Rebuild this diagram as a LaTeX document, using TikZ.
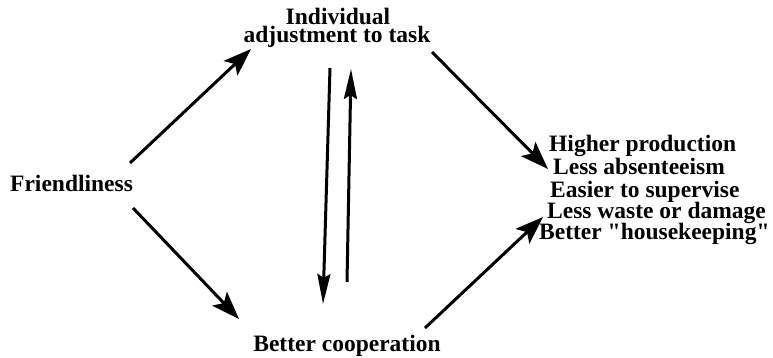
\documentclass[tikz,border=0pt]{standalone}
\usepackage{fontspec}
\setmainfont{Liberation Serif}
\newfontfamily\qfont{Liberation Serif}[Ligatures=ResetAll]
\newcommand{\sq}{{\qfont\bfseries"}}
\usetikzlibrary{arrows.meta}
\tikzset{
  lbl/.style={inner sep=0pt, font=\fontsize{23.5}{23.5}\selectfont\bfseries},
  arr/.style={line width=3pt, -{Stealth[length=28pt,width=20pt,inset=6pt]}},
  varr/.style={line width=3pt, -{Stealth[length=30pt,width=13pt,inset=4pt]}}
}
\begin{document}
\begin{tikzpicture}[x=1pt,y=-1pt]
\useasboundingbox (0,0) rectangle (773,358);
% texts
\node[lbl, anchor=base] (ind1) at (338,25) {Individual};
\node[lbl, anchor=base] (ind2) at (337,43) {adjustment to task};
\node[lbl, anchor=base west] (friend) at (10,192) {Friendliness};
\node[lbl, anchor=base] (coop) at (347,351) {Better cooperation};
\node[lbl, anchor=base west] (r1) at (549,152) {Higher production};
\node[lbl, anchor=base west] (r2) at (553,175) {Less absenteeism};
\node[lbl, anchor=base west] (r3) at (550,197) {Easier to supervise};
\node[lbl, anchor=base west] (r4) at (547,218) {Less waste or damage};
\node[lbl, anchor=base west] (r5) at (539,239) {Better \sq housekeeping\sq};
% connector ends
\coordinate (fA) at (130,163);
\coordinate (iA) at (251,49);
\coordinate (fB) at (133,208);
\coordinate (cA) at (239,319);
\coordinate (iB) at (432,52);
\coordinate (rA) at (548,169);
\coordinate (cB) at (425,328);
\coordinate (rB) at (543,217);
\coordinate (dS) at (330,68);
\coordinate (dE) at (323,304);
\coordinate (uS) at (347,282);
\coordinate (uE) at (351,69);
% connectors
\draw[arr] (fA) -- (iA);
\draw[arr] (fB) -- (cA);
\draw[arr] (iB) -- (rA);
\draw[arr] (cB) -- (rB);
\draw[varr] (dS) -- (dE);
\draw[varr] (uS) -- (uE);
\end{tikzpicture}
\end{document}
